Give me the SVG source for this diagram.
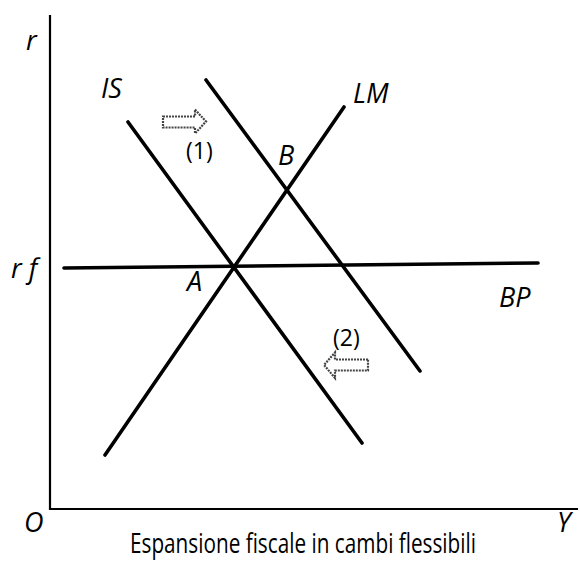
<svg xmlns="http://www.w3.org/2000/svg" width="580" height="585" viewBox="0 0 580 585">
<style>
.ax{stroke:#000;stroke-width:2.2;fill:none}
.ln{stroke:#000;stroke-width:3.6;fill:none;stroke-linecap:round}
.lab{font-family:"Open Sans","DejaVu Sans",sans-serif;font-style:italic;font-size:27px;fill:#000}
.num{font-family:"Open Sans","DejaVu Sans",sans-serif;font-size:23px;fill:#000}
.ttl{font-family:"Open Sans","DejaVu Sans",sans-serif;font-size:28px;fill:#000}
.arr{fill:#fff;stroke:#444;stroke-width:2.2;stroke-dasharray:2 1;stroke-linejoin:miter}
</style>
<rect width="580" height="585" fill="#fff"/>
<g id="axes">
<path class="ax" d="M50 15 V509 H578"/>
</g>
<g id="connectors">
<line id="IS1" class="ln" x1="128" y1="122" x2="362" y2="443"/>
<line id="IS2" class="ln" x1="206" y1="80" x2="420" y2="371"/>
<line id="LM" class="ln" x1="105" y1="455" x2="344" y2="107"/>
<line id="BP" class="ln" x1="64" y1="268" x2="538" y2="263"/>
</g>
<g id="arrow1"><path class="arr" d="M163 116.5 H195 V109.5 L206 121.5 L195 133.5 V127.5 H163 Z"/></g>
<g id="arrow2"><path class="arr" d="M368 359.5 H335 V352.5 L324 365 L335 378 V370.5 H368 Z"/></g>
<g id="labels">
<text class="lab" x="26" y="50">r</text>
<text class="lab" x="11" y="278">r f</text>
<text class="lab" x="101" y="98">IS</text>
<text class="lab" x="353" y="103">LM</text>
<text class="lab" x="278" y="165">B</text>
<text class="lab" x="187" y="291">A</text>
<text class="lab" x="499" y="307">BP</text>
<text class="lab" x="24" y="532">O</text>
<text class="lab" x="557" y="532">Y</text>
<text class="num" x="186" y="159">(1)</text>
<text class="num" x="333" y="346">(2)</text>
<text class="ttl" x="130" y="553" textLength="346" lengthAdjust="spacingAndGlyphs">Espansione fiscale in cambi flessibili</text>
</g>
</svg>
